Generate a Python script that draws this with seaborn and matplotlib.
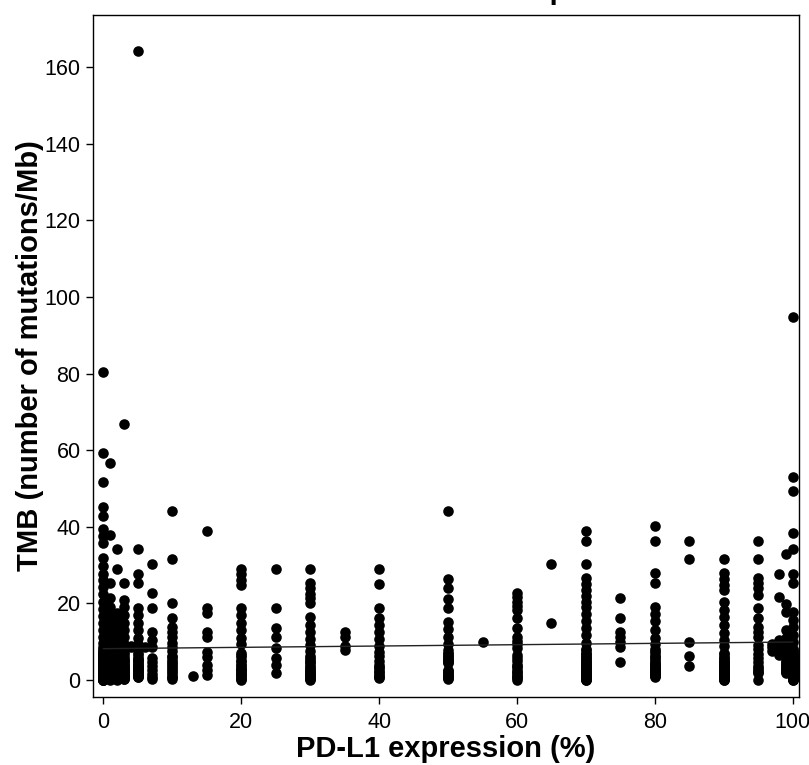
import numpy as np
import pandas as pd
import matplotlib
matplotlib.use("Agg")
import matplotlib.pyplot as plt
import seaborn as sns

# TMB values, one list per PD-L1 level
tmb_pd0 = [80.5, 59.3, 51.7, 45.2, 42.8, 39.4, 37.6, 35.8, 31.8, 29.8, 27.8, 26.0, 24.3, 22.4,
           20.5, 18.6, 16.7, 14.8, 13.0, 11.3, 9.7,
           0.2, 0.5, 0.9, 1.3, 1.8, 2.3, 2.9, 3.6, 4.4, 5.3,
           0.1, 0.4, 0.8, 1.2, 1.7, 2.2, 2.8, 3.5, 4.3, 6.2,
           0.3, 0.7, 1.0, 1.5, 2.0, 2.6, 3.2, 3.9, 4.8, 7.1,
           0.2, 0.6, 1.1, 1.4, 1.9, 2.4, 3.0, 3.8, 4.6, 5.8,
           0.0, 0.5, 0.9, 1.3, 1.8, 2.5, 3.1, 4.0, 5.0, 6.6,
           0.3, 0.7, 1.2, 1.6, 2.1, 2.7, 3.3, 4.1, 5.1, 7.6,
           0.1, 0.4, 0.8, 1.4, 2.0, 2.6, 3.4, 4.2, 5.5, 6.9,
           0.2, 0.6, 1.0, 1.5, 2.2, 2.9, 3.7, 4.5, 5.6, 8.2,
           0.4, 0.8, 1.3, 1.7, 2.3, 3.0, 3.8, 4.7, 5.9, 7.4,
           0.1, 0.5, 1.1, 1.6, 2.4, 3.1, 3.9, 4.9, 6.0, 8.6]
tmb_pd1 = [56.6, 37.8, 25.3, 21.4, 19.0, 17.0, 15.0, 13.0, 11.2, 9.5,
           0.2, 0.6, 1.0, 1.5, 2.0, 2.6, 3.3, 4.1, 5.0, 6.1,
           0.1, 0.5, 0.9, 1.4, 1.9, 2.5, 3.2, 4.0, 5.3, 6.8,
           0.3, 0.7, 1.2, 1.7, 2.3, 2.9, 3.6, 4.5, 5.7, 7.5,
           0.4, 0.8, 1.3, 1.8, 2.4, 3.1, 3.9, 4.8, 6.4, 8.1,
           0.2, 1.1, 2.1, 3.4, 4.6]
tmb_pd2 = [34.3, 29.0, 17.5, 15.5, 13.5, 11.6, 9.8,
           0.2, 0.7, 1.2, 1.8, 2.4, 3.1, 3.9, 4.8, 5.8, 7.0,
           0.4, 0.9, 1.4, 2.0, 2.7, 3.5, 4.3, 5.3, 6.5, 8.0,
           0.1, 1.0, 2.2, 3.3, 4.6]
tmb_pd3 = [66.8, 25.3, 21.0, 19.0, 17.0, 15.0, 13.0, 11.2, 9.5,
           0.3, 0.8, 1.3, 1.9, 2.5, 3.2, 4.0, 4.9, 6.0, 7.3,
           0.5, 1.0, 1.5, 2.1, 2.8, 3.6, 4.4, 5.4, 6.7, 8.3,
           0.2, 1.1, 2.3, 3.4, 5.0]
tmb_pd4 = [9.0, 8.5]
tmb_pd5 = [164.2, 34.3, 27.7, 25.3, 18.8, 17.0, 15.0, 13.0, 11.1, 9.4,
           0.8, 1.2, 1.7, 2.2, 2.8, 3.4, 4.1, 4.9, 5.8, 7.0,
           1.0, 1.4, 1.9, 2.5, 3.1, 3.8, 4.6, 5.5, 6.5, 8.0,
           0.9, 1.6, 2.6, 3.6, 5.2]
tmb_pd6 = [8.6]
tmb_pd7 = [30.3, 22.6, 18.8, 12.5, 10.4, 8.6, 5.7, 4.7, 3.7, 2.7, 1.7, 0.9, 0.2]
tmb_pd10 = [44.1, 31.6, 20.1, 16.2, 13.8, 12.6, 11.2, 9.7, 8.6, 7.5, 6.4, 5.3, 4.2, 3.1, 2.0,
            0.9, 0.4, 1.5, 2.5, 3.6, 4.8, 5.9, 0.7]
tmb_pd13 = [1.0]
tmb_pd15 = [38.9, 18.8, 17.6, 12.5, 11.2, 7.3, 5.9, 3.9, 2.6, 1.2]
tmb_pd20 = [29.0, 27.6, 26.1, 24.8, 18.8, 17.0, 15.0, 13.0, 11.1, 9.3,
            0.1, 0.6, 1.2, 1.8, 2.5, 3.2, 4.0, 4.9, 5.9, 7.1, 0.4, 1.0, 1.6, 2.3, 3.0, 3.8, 5.1, 6.5]
tmb_pd25 = [29.0, 18.8, 13.6, 11.2, 8.4, 5.7, 3.9, 1.8]
tmb_pd30 = [29.0, 25.3, 24.0, 22.5, 21.3, 20.1, 16.4, 14.5, 12.6, 10.8, 9.1,
            0.0, 0.5, 1.0, 1.6, 2.2, 2.9, 3.6, 4.4, 5.3, 6.3, 7.5, 0.3, 0.8, 1.4, 2.0, 2.7, 3.5,
            4.6, 5.8]
tmb_pd35 = [12.5, 11.3, 9.0, 7.8]
tmb_pd40 = [29.0, 25.0, 18.8, 16.2, 14.4, 12.5, 10.6, 8.9,
            0.5, 1.0, 1.6, 2.3, 3.1, 4.0, 5.0, 6.2, 7.4, 0.8, 2.0, 3.5]
tmb_pd50 = [44.1, 26.4, 24.0, 21.2, 18.8, 15.1, 13.2, 11.3, 9.5,
            0.3, 0.8, 1.4, 2.0, 2.6, 4.4, 5.0, 5.6, 6.3, 7.1, 7.9, 0.5, 1.1, 1.7, 2.3, 4.7, 5.3,
            6.0, 6.8]
tmb_pd55 = [10.0]
tmb_pd60 = [22.7, 21.6, 20.5, 19.4, 18.3, 16.2, 13.6, 11.2, 10.1, 9.3, 8.4,
            0.0, 0.5, 1.1, 1.7, 2.4, 3.2, 4.0, 4.9, 5.8, 6.5, 0.8, 2.0, 3.6]
tmb_pd65 = [30.3, 14.9]
tmb_pd70 = [38.9, 36.3, 30.3, 26.6, 25.0, 23.4, 21.9, 20.4, 19.0, 17.2, 15.4, 13.6, 11.7, 9.8,
            0.0, 0.4, 0.9, 1.4, 2.0, 2.6, 3.3, 4.1, 5.0, 6.0, 7.1, 8.2,
            0.2, 0.7, 1.2, 1.8, 2.4, 3.1, 3.9, 4.8, 5.8, 6.9, 7.9,
            0.1, 0.6, 1.1, 1.6, 2.2, 2.9, 3.7, 4.6, 5.5, 6.5]
tmb_pd75 = [21.4, 16.2, 12.5, 11.2, 9.9, 8.6, 4.7]
tmb_pd80 = [40.2, 36.3, 27.9, 25.3, 19.0, 17.2, 15.4, 13.0, 11.1, 9.3,
            0.8, 1.3, 1.9, 2.5, 3.2, 4.0, 4.9, 5.9, 7.0, 8.1, 1.0, 1.6, 2.2, 2.9, 3.7, 4.5, 5.4,
            6.4, 7.5, 1.2, 2.0, 3.0, 4.2]
tmb_pd85 = [36.3, 31.6, 9.9, 6.3, 3.7]
tmb_pd90 = [31.6, 27.9, 26.3, 24.9, 23.5, 20.4, 18.4, 16.4, 14.4, 12.4, 10.5, 8.8,
            0.0, 0.4, 0.9, 1.4, 2.0, 2.6, 3.3, 4.1, 5.0, 6.0, 7.1,
            0.2, 0.7, 1.2, 1.8, 2.4, 3.1, 3.9, 4.8, 5.8, 6.9,
            0.1, 0.6, 1.1, 1.7, 2.3, 3.0, 3.8, 4.7, 5.6]
tmb_pd95 = [36.3, 31.6, 26.6, 25.3, 23.9, 22.2, 18.8, 16.2, 13.8, 12.5, 11.2, 9.1,
            8.0, 6.9, 5.8, 4.7, 3.7, 2.7, 1.8, 0.0, 2.2, 3.2]
tmb_pd97 = [9.5, 8.5, 7.5]
tmb_pd98 = [27.7, 21.7, 10.4, 9.6, 8.8, 8.0, 7.2, 6.5]
tmb_pd99 = [32.9, 19.8, 17.8, 13.0, 11.0, 9.0,
            1.8, 2.3, 2.9, 3.5, 4.2, 5.0, 5.9, 6.9, 8.0, 2.0, 2.6, 3.3, 4.0, 4.8, 6.2]
tmb_pd100 = [94.8, 53.0, 49.3, 38.4, 34.2, 27.7, 25.3, 17.8, 15.8, 13.8, 11.8, 9.9,
             0.0, 0.4, 0.9, 1.4, 2.0, 2.6, 3.3, 4.1, 5.0, 6.0, 7.1, 8.2,
             0.2, 0.7, 1.2, 1.8, 2.4, 3.1, 3.9, 4.8, 5.8, 6.9, 7.9,
             0.1, 0.6, 1.1, 1.6, 2.2, 2.9, 3.7, 4.6, 5.5, 6.5,
             0.3, 0.8, 1.3, 2.1, 2.8, 3.6, 4.4, 5.3, 6.3, 7.6]

pdl1_levels = [0, 1, 2, 3, 4, 5, 6, 7, 10, 13, 15, 20, 25, 30, 35, 40, 50, 55, 60, 65, 70, 75,
               80, 85, 90, 95, 97, 98, 99, 100]
tmb_groups = [tmb_pd0, tmb_pd1, tmb_pd2, tmb_pd3, tmb_pd4, tmb_pd5, tmb_pd6, tmb_pd7, tmb_pd10,
              tmb_pd13, tmb_pd15, tmb_pd20, tmb_pd25, tmb_pd30, tmb_pd35, tmb_pd40, tmb_pd50,
              tmb_pd55, tmb_pd60, tmb_pd65, tmb_pd70, tmb_pd75, tmb_pd80, tmb_pd85, tmb_pd90,
              tmb_pd95, tmb_pd97, tmb_pd98, tmb_pd99, tmb_pd100]

df = pd.DataFrame({
    "pdl1": np.concatenate([[lv] * len(g) for lv, g in zip(pdl1_levels, tmb_groups)]),
    "tmb": np.concatenate(tmb_groups),
})

sns.set_theme(style="ticks")
plt.rcParams["font.family"] = ["Liberation Sans", "DejaVu Sans"]

fig = plt.figure(figsize=(8.09, 7.65), dpi=100)
ax = fig.add_axes([0.115, 0.089, 0.8726, 0.8915])

sns.regplot(data=df, x="pdl1", y="tmb", ax=ax, ci=None,
            scatter_kws=dict(s=58, color="black", linewidths=0, alpha=1),
            line_kws=dict(color="#222222", lw=1.0))

ax.set_xlim(-1.5, 100.9)
ax.set_ylim(-4.4, 173.6)
ax.set_xticks([0, 20, 40, 60, 80, 100])
ax.set_yticks([0, 20, 40, 60, 80, 100, 120, 140, 160])
ax.tick_params(direction="out", length=5, width=1, colors="black", labelsize=15.5)
ax.tick_params(axis="x", pad=6)
ax.tick_params(axis="y", pad=4)
for sp in ax.spines.values():
    sp.set_visible(True)
    sp.set_color("black")
    sp.set_linewidth(1)

ax.set_xlabel("PD-L1 expression (%)", fontsize=21, fontweight="bold", color="black", labelpad=1)
ax.set_ylabel("TMB (number of mutations/Mb)", fontsize=21, fontweight="bold", color="black", labelpad=0)

# title sits mostly above the visible canvas in the reference
fig.text(0.608, 1.0007, "TMB vs PD-L1 expression", ha="center", va="baseline",
         fontsize=21, fontweight="bold", color="black")

fig.savefig("out.png", dpi=100)
